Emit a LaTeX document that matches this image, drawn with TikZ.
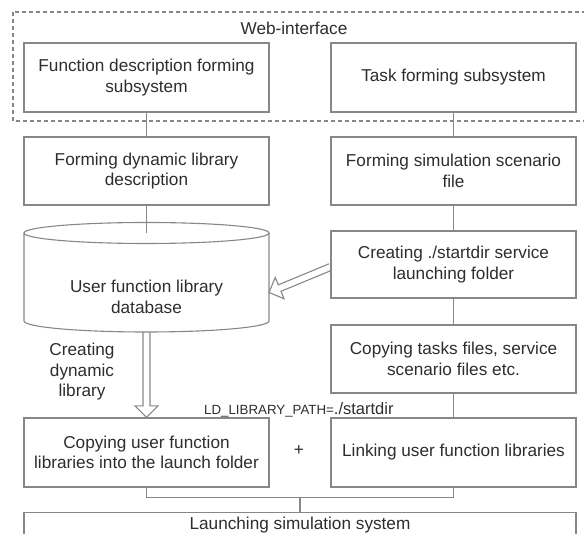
\documentclass[tikz,border=0pt]{standalone}
\usepackage{fontspec}
\setmainfont{Liberation Sans}
\usetikzlibrary{calc}

\definecolor{linegray}{RGB}{135,135,135}
\definecolor{inkgray}{RGB}{45,45,45}

% block arrow outline from #1 to the tip #2
\newcommand\hollowarrow[2]{%
  \coordinate (hb) at ($(#2)!11.5pt!(#1)$);
  \draw[line]
    ($(#1)!3.5pt!90:(#2)$) -- ($(hb)!3.5pt!90:(#2)$) -- ($(hb)!11.5pt!90:(#2)$)
    -- (#2)
    -- ($(hb)!11.5pt!-90:(#2)$) -- ($(hb)!3.5pt!-90:(#2)$) -- ($(#1)!3.5pt!-90:(#2)$);}

\tikzset{
  line/.style={draw=linegray, line width=1.1pt},
  txt/.style={text=inkgray, font=\fontsize{17.2}{20.5}\selectfont, align=center},
  box/.style={line, txt, rectangle, inner sep=0pt, minimum width=245pt},
}

\begin{document}
\begin{tikzpicture}[x=1pt, y=-1pt]
\useasboundingbox (0,0) rectangle (584,534);
\clip (0,0) rectangle (584,534);

% web-interface frame
\draw[line, dash pattern=on 4pt off 3pt] (13,12) rectangle (600,121);
\node[txt] (web) at (294,28) {Web-interface};

% left column
\node[box, minimum height=69pt] (fds) at (146.5,77.5) {Function description forming\\subsystem};
\node[box, minimum height=68pt] (fdl) at (146.5,171) {Forming dynamic library\\description};

% database cylinder
\draw[line] (24,233) -- (24,321)
  arc[start angle=180, end angle=360, x radius=122.5pt, y radius=11pt]
  -- (269,233);
\draw[line] (146.5,233) ellipse [x radius=122.5pt, y radius=10.5pt];
\node[txt] (db) at (146.5,297) {User function library\\database};
\coordinate (dbtop) at (146.5,233);
\coordinate (dbbot) at (146.5,332);
\coordinate (dbeast) at (269,292.5);

\node[txt] (mk) at (82,372) {Creating\\dynamic\\library};
\node[box, minimum height=69pt] (cpu) at (146.5,452.5) {Copying user function\\libraries into the launch folder};

% right column
\node[box, minimum height=69pt] (tfs) at (453.5,77.5) {Task forming subsystem};
\node[box, minimum height=68pt] (fss) at (453.5,171) {Forming simulation scenario\\file};
\node[box, minimum height=67pt] (cre) at (453.5,264.5) {Creating ./startdir service\\launching folder};
\node[box, minimum height=68pt] (cpt) at (453.5,359) {Copying tasks files, service\\scenario files etc.};
\node[box, minimum height=69pt] (lnk) at (453.5,452.5) {Linking user function libraries};

\node[txt] (plus) at (299,451) {+};
\node[text=inkgray, anchor=base west, inner sep=0pt] (ld) at (204,415)
  {\fontsize{13.3}{16}\selectfont LD\_LIBRARY\_PATH=\fontsize{16.5}{20}\selectfont./startdir};

% bottom box
\node[line, text=inkgray, font=\fontsize{17.2}{20.5}\selectfont, anchor=north,
  minimum width=552pt, inner sep=0pt, text height=17pt, text depth=30pt] (lau) at (300,512)
  {Launching simulation system};

% plain connectors
\draw[line] (fds) -- (fdl);
\draw[line] (fdl) -- (dbtop);
\draw[line] (tfs) -- (fss);
\draw[line] (fss) -- (cre);
\draw[line] (cre) -- (cpt);
\draw[line] (cpt) -- (lnk);
\draw[line] (cpu.south) -- ++(0,10) -| (lnk.south);
\coordinate (join) at (300,497);
\draw[line] (join) -- (lau.north);

% block arrows
\coordinate (crefrom) at ($(cre.west)+(0,2.5)$);
\hollowarrow{crefrom}{dbeast}
\hollowarrow{dbbot}{cpu.north}
\end{tikzpicture}
\end{document}
